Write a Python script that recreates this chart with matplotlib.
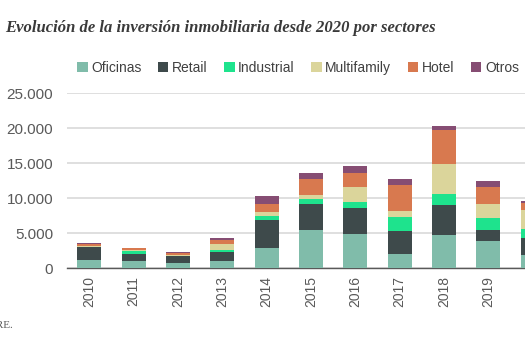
import matplotlib
matplotlib.use("Agg")
import matplotlib.pyplot as plt
import numpy as np

years = ["2010", "2011", "2012", "2013", "2014", "2015", "2016", "2017", "2018", "2019", "2020"]
sectors = ["Oficinas", "Retail", "Industrial", "Multifamily", "Hotel", "Otros"]

oficinas = [1200, 950, 720, 950, 2900, 5500, 4800, 2070, 4680, 3820, 1860]
retail = [1750, 1100, 940, 1340, 4000, 3600, 3730, 3270, 4280, 1580, 2380]
industrial = [50, 400, 50, 230, 580, 760, 960, 2000, 1590, 1710, 1380]
multifamily = [150, 80, 150, 910, 520, 580, 2110, 860, 4300, 2090, 2620]
hotel = [300, 300, 230, 620, 1150, 2290, 1960, 3620, 4840, 2350, 1060]
otros = [150, 100, 130, 290, 1110, 870, 1000, 960, 670, 850, 290]

colors = ["#80bcaa", "#3e4a4b", "#1ee38d", "#dbd59b", "#d8794f", "#864d73"]

series = [oficinas, retail, industrial, multifamily, hotel, otros]

fig = plt.figure(figsize=(5.25, 3.5), dpi=100)
ax = fig.add_axes([67 / 525, 82 / 350, 488 / 525, 174.7 / 350])

x = np.arange(len(years))
bottom = np.zeros(len(years))
for name, vals, col in zip(sectors, series, colors):
    ax.bar(x, vals, bottom=bottom, width=0.54, color=col, label=name, zorder=3)
    bottom += np.array(vals)

ax.set_xlim(-0.5, len(years) - 0.5)
ax.set_ylim(0, 25000)
ax.set_yticks(range(0, 25001, 5000))
ax.set_yticklabels([f"{v:,}".replace(",", ".") for v in range(0, 25001, 5000)])
ax.set_xticks(x)
ax.set_xticklabels(years, rotation=90)
ax.yaxis.grid(True, color="#d9d9d9", linewidth=1.2, zorder=0)
ax.set_axisbelow(True)
for s in ["top", "right", "left"]:
    ax.spines[s].set_visible(False)
ax.spines["bottom"].set_color("#595959")
ax.spines["bottom"].set_linewidth(1.0)
ax.tick_params(axis="x", length=0, labelsize=10, labelcolor="#595959", pad=6)
ax.tick_params(axis="y", length=0, labelsize=11, labelcolor="#595959", pad=10)
for lbl in ax.get_xticklabels() + ax.get_yticklabels():
    lbl.set_fontfamily("Liberation Sans")

fig.legend(loc="center", bbox_to_anchor=(298 / 525, 1 - 68 / 350), ncol=6,
           frameon=False, handlelength=0.75, handleheight=0.75,
           handletextpad=0.25, columnspacing=1.2,
           prop={"family": "Liberation Sans", "size": 10}, labelcolor="#404040")

fig.text(5 / 525, 1 - 28 / 350,
         "Evolución de la inversión inmobiliaria desde 2020 por sectores",
         ha="left", va="center", fontsize=12, fontweight="bold", style="italic",
         family="Liberation Serif", color="#3a3a3a")
fig.text(13 / 525, 1 - 326 / 350, "Fuente: CBRE.", ha="right", va="center",
         fontsize=8, family="Liberation Serif", color="#595959")

fig.savefig("out.png", dpi=100)
